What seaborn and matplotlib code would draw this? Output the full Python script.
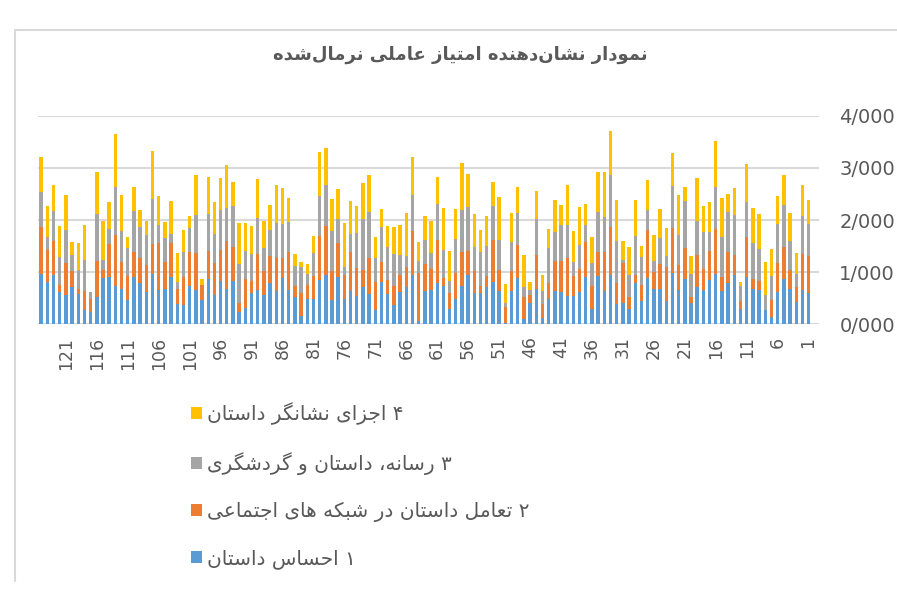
import numpy as np
import pandas as pd
import seaborn as sns
import matplotlib.pyplot as plt
from matplotlib.patches import Patch
from matplotlib.lines import Line2D

# --- data: bars 1..125 ---
categories = [str(i) for i in range(1, 126)]

feeling = [0.60, 0.65, 0.42, 0.67, 0.86, 0.62, 0.14, 0.26, 0.65, 0.68,
           0.90, 0.29, 0.94, 0.79, 0.63, 0.97, 0.85, 0.65, 0.71, 0.40,
           0.87, 0.65, 0.99, 0.44, 0.67, 0.67, 0.88, 0.44, 0.79, 0.29,
           0.41, 0.39, 0.95, 0.63, 0.93, 0.29, 0.90, 0.62, 0.54, 0.53,
           0.62, 0.63, 0.49, 0.12, 0.67, 0.40, 0.10, 0.89, 0.64, 0.01,
           0.63, 0.81, 0.71, 0.60, 0.60, 0.95, 0.74, 0.48, 0.28, 0.74,
           0.79, 0.65, 0.63, 0.06, 0.95, 0.71, 0.62, 0.37, 0.58, 0.80,
           0.27, 0.58, 0.72, 0.54, 0.63, 0.48, 0.90, 0.47, 0.95, 0.85,
           0.49, 0.49, 0.16, 0.51, 0.66, 0.88, 0.63, 0.78, 0.56, 0.66,
           0.60, 0.31, 0.24, 0.82, 0.67, 0.83, 0.56, 0.87, 0.46, 0.65,
           0.74, 0.37, 0.39, 0.91, 0.68, 0.66, 0.97, 0.62, 0.78, 0.91,
           0.47, 0.67, 0.73, 0.90, 0.88, 0.51, 0.24, 0.26, 0.57, 0.71,
           0.56, 0.62, 0.94, 0.81, 0.97]

social = [0.71, 0.69, 0.29, 0.37, 0.63, 0.56, 0.33, 0.00, 0.18, 0.19,
          0.78, 0.15, 0.39, 0.60, 0.28, 0.85, 0.56, 0.40, 0.61, 0.11,
          0.60, 0.48, 0.86, 0.65, 0.49, 0.33, 0.92, 0.31, 0.15, 0.23,
          0.76, 0.40, 0.91, 0.76, 0.46, 0.44, 0.67, 0.43, 0.38, 0.74,
          0.60, 0.58, 0.30, 0.27, 0.65, 0.16, 0.41, 0.63, 0.38, 0.32,
          0.40, 0.81, 0.21, 0.13, 0.42, 0.46, 0.65, 0.51, 0.32, 0.15,
          0.83, 0.41, 0.53, 0.93, 0.83, 0.39, 0.33, 0.37, 0.27, 0.40,
          0.53, 0.69, 0.31, 0.54, 0.76, 0.47, 0.65, 0.54, 0.94, 0.85,
          0.44, 0.26, 0.44, 0.23, 0.72, 0.39, 0.65, 0.52, 0.46, 0.68,
          0.22, 0.55, 0.17, 0.66, 0.93, 0.60, 0.61, 0.53, 0.29, 0.71,
          0.65, 0.53, 0.29, 0.65, 0.52, 0.90, 0.56, 0.51, 0.49, 0.47,
          0.46, 0.53, 0.99, 0.64, 0.16, 0.71, 0.25, 0.38, 0.10, 0.31,
          0.61, 0.13, 0.65, 0.61, 0.90]

media = [0.61, 0.74, 0.26, 0.55, 0.80, 0.75, 0.46, 0.29, 0.62, 0.68,
         0.67, 0.29, 0.77, 0.76, 0.77, 0.81, 0.36, 0.71, 0.67, 0.46,
         0.90, 0.58, 0.81, 0.22, 0.50, 0.21, 0.39, 0.53, 0.75, 0.43,
         0.06, 0.80, 1.01, 0.67, 0.77, 0.44, 0.33, 0.46, 0.27, 0.63,
         0.69, 0.56, 0.67, 0.24, 0.70, 0.10, 0.21, 0.61, 0.56, 0.08,
         0.58, 0.65, 0.58, 0.65, 0.46, 0.84, 0.81, 0.64, 0.23, 0.53,
         0.69, 0.31, 0.45, 0.22, 0.71, 0.21, 0.38, 0.60, 0.63, 0.67,
         0.46, 0.88, 0.99, 0.67, 0.35, 0.14, 0.47, 0.78, 0.79, 0.76,
         0.44, 0.21, 0.49, 0.37, 0.58, 0.65, 0.67, 0.50, 0.44, 0.69,
         0.53, 0.54, 0.75, 0.78, 0.64, 0.76, 0.57, 0.71, 0.00, 0.74,
         0.46, 0.49, 0.13, 0.17, 0.46, 0.34, 0.88, 0.59, 0.59, 0.80,
         0.54, 0.58, 0.92, 0.29, 0.20, 0.90, 0.13, 0.59, 0.36, 0.31,
         0.63, 0.54, 0.58, 0.26, 0.67]

parts = [0.46, 0.60, 0.40, 0.55, 0.58, 0.53, 0.51, 0.65, 0.66, 0.68,
         0.72, 0.07, 0.51, 0.35, 0.74, 0.88, 0.58, 0.50, 0.81, 0.34,
         0.26, 0.78, 0.62, 0.53, 0.56, 0.51, 0.57, 0.22, 0.69, 0.53,
         0.37, 0.79, 0.85, 0.86, 0.76, 0.50, 0.40, 0.74, 0.59, 0.78,
         0.37, 0.62, 0.36, 0.31, 0.53, 0.15, 0.61, 0.51, 0.55, 0.35,
         0.84, 0.46, 0.57, 0.42, 0.63, 0.63, 0.89, 0.58, 0.58, 0.81,
         0.51, 0.61, 0.47, 0.36, 0.72, 0.82, 0.57, 0.53, 0.40, 0.35,
         0.42, 0.72, 0.69, 0.52, 0.63, 0.85, 0.57, 0.61, 0.71, 0.85,
         0.33, 0.19, 0.11, 0.24, 0.47, 0.69, 0.73, 0.49, 0.53, 0.75,
         0.53, 0.54, 0.79, 0.47, 0.81, 0.62, 0.60, 0.71, 0.11, 0.77,
         0.22, 0.42, 0.55, 0.63, 0.30, 0.56, 0.92, 0.26, 0.33, 0.46,
         0.21, 0.71, 1.01, 0.51, 0.74, 0.80, 0.00, 0.67, 0.53, 0.24,
         0.69, 0.59, 0.50, 0.59, 0.67]

title_text = "نمودار نشان‌دهنده امتیاز عاملی نرمال‌شده"
series_names = ["۱ احساس داستان",
                "۲ تعامل داستان در شبکه های اجتماعی",
                "۳ رسانه، داستان و گردشگری",
                "۴ اجزای نشانگر داستان"]
colors = ["#5B9BD5", "#ED7D31", "#A5A5A5", "#FFC000"]

# --- minimal Persian shaping (matplotlib has no bidi / joining) ---
FORMS = {
    "ا": "\uFE8D\uFE8E", "د": "\uFEA9\uFEAA", "ر": "\uFEAD\uFEAE",
    "ز": "\uFEAF\uFEB0", "و": "\uFEED\uFEEE",
    "ب": "\uFE8F\uFE90\uFE91\uFE92", "ت": "\uFE95\uFE96\uFE97\uFE98",
    "ج": "\uFE9D\uFE9E\uFE9F\uFEA0", "ح": "\uFEA1\uFEA2\uFEA3\uFEA4",
    "س": "\uFEB1\uFEB2\uFEB3\uFEB4", "ش": "\uFEB5\uFEB6\uFEB7\uFEB8",
    "ع": "\uFEC9\uFECA\uFECB\uFECC", "ل": "\uFEDD\uFEDE\uFEDF\uFEE0",
    "م": "\uFEE1\uFEE2\uFEE3\uFEE4", "ن": "\uFEE5\uFEE6\uFEE7\uFEE8",
    "ه": "\uFEE9\uFEEA\uFEEB\uFEEC", "ی": "\uFBFC\uFBFD\uFBFE\uFBFF",
    "ک": "\uFB8E\uFB8F\uFB90\uFB91", "گ": "\uFB92\uFB93\uFB94\uFB95",
}


def shape(s):
    out = []
    for i, c in enumerate(s):
        if c not in FORMS:
            if c != "\u200c":
                out.append(c)
            continue
        f = FORMS[c]
        prev = s[i - 1] if i > 0 else ""
        nxt = s[i + 1] if i + 1 < len(s) else ""
        jp = prev in FORMS and len(FORMS[prev]) == 4
        jn = len(f) == 4 and nxt in FORMS
        if jp and jn:
            out.append(f[3])
        elif jp:
            out.append(f[1])
        elif jn:
            out.append(f[2])
        else:
            out.append(f[0])
    return "".join(reversed(out))


df = pd.DataFrame({"cat": categories, "s1": feeling, "s2": social,
                   "s3": media, "s4": parts})
df["c1"] = df["s1"]
df["c2"] = df["c1"] + df["s2"]
df["c3"] = df["c2"] + df["s3"]
df["c4"] = df["c3"] + df["s4"]

sns.set_style("white")
plt.rcParams["font.family"] = ["DejaVu Sans"]
txt = "#595959"

fig = plt.figure(figsize=(8.97, 5.93), dpi=100)
ax = fig.add_axes([38 / 897, 1 - 324 / 593, (818.5 - 38) / 897, (324 - 116) / 593])

# stacked bars: draw cumulative totals from the top down
for col, c in zip(["c4", "c3", "c2", "c1"], colors[::-1]):
    sns.barplot(data=df, x="cat", y=col, order=categories, color=c,
                width=0.55, saturation=1, linewidth=0, ax=ax, zorder=3)

ax.set_ylim(0, 4)
ax.set_xlim(124.5, -1.6)
ax.set_yticks([0, 1, 2, 3, 4])
ax.set_yticklabels([f"{v:.3f}".replace(".", "/") for v in range(5)],
                   fontsize=14, color=txt)
ax.yaxis.tick_right()
ax.tick_params(axis="y", length=0, pad=15)
ax.set_xticks(list(range(0, 125, 5)))
ax.set_xticklabels(categories[::5], rotation=90, fontsize=12.5, color=txt)
ax.tick_params(axis="x", length=0, pad=9)
ax.set_xlabel("")
ax.set_ylabel("")
ax.grid(axis="y", color="#d9d9d9", linewidth=1.5, zorder=0)
for sp in ax.spines.values():
    sp.set_visible(False)

fig.text(460 / 897, 1 - 55 / 593, shape(title_text), ha="center", va="center",
         fontsize=13, fontweight="bold", color=txt)

handles = [Patch(facecolor=colors[i], edgecolor="none") for i in [3, 2, 1, 0]]
labels = [shape(series_names[i]) for i in [3, 2, 1, 0]]
fig.legend(handles, labels, loc="upper left",
           bbox_to_anchor=(181 / 897, 1 - 392 / 593), frameon=False,
           fontsize=14.5, handlelength=0.55, handleheight=0.55,
           handletextpad=0.25, labelspacing=1.35, borderpad=0,
           labelcolor=txt)

# chart frame
fig.add_artist(Line2D([15 / 897, 1], [1 - 30 / 593] * 2, color="#d9d9d9",
                      linewidth=1.5, transform=fig.transFigure))
fig.add_artist(Line2D([15 / 897] * 2, [1 - 30 / 593, 0.02], color="#d9d9d9",
                      linewidth=1.5, transform=fig.transFigure))

fig.savefig("out.png", dpi=100)
